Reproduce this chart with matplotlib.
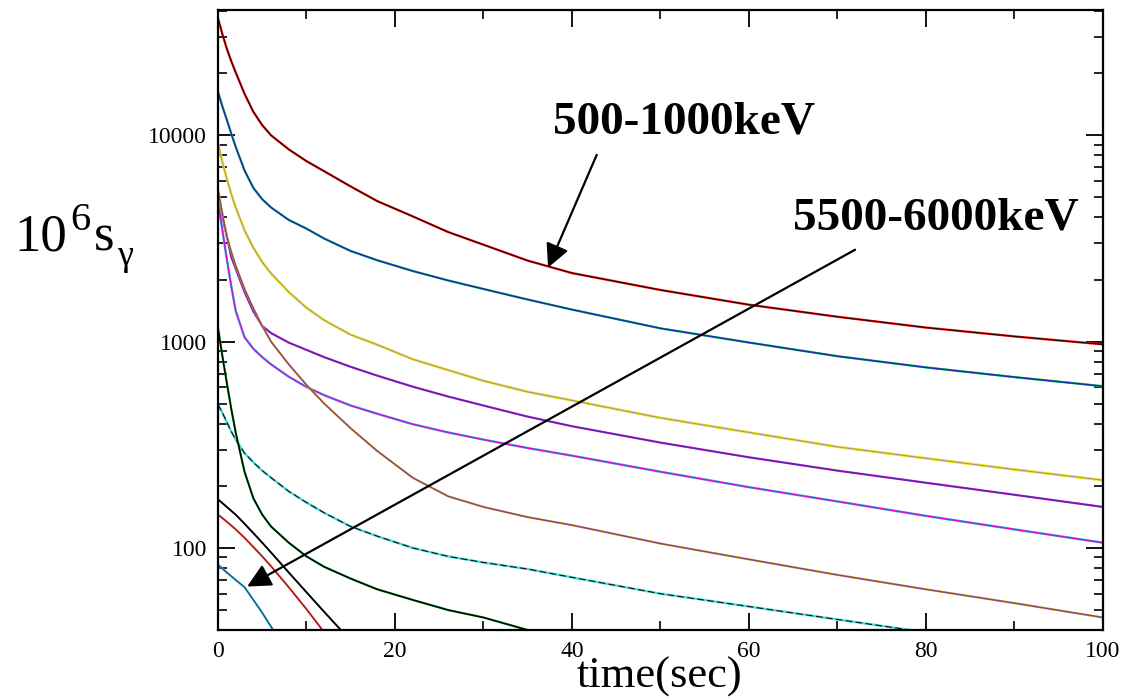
import numpy as np
import matplotlib.pyplot as plt
from matplotlib.ticker import FixedLocator, MultipleLocator, LogLocator, NullFormatter

plt.rcParams['font.family'] = ['Liberation Serif', 'DejaVu Serif']

# time grid (sec)
t = [0, 0.5, 1, 1.5, 2, 3, 4, 5, 6, 8, 10, 12, 15, 18, 22, 26, 30, 35, 40,
     50, 60, 70, 80, 90, 100]

# decay curves, one per energy window
c500 = [37000, 30900, 26300, 22900, 20200, 15900, 13000, 11200, 10000, 8550,
        7500, 6700, 5650, 4800, 4050, 3400, 2950, 2470, 2150,
        1780, 1510, 1320, 1170, 1060, 970]
c1000 = [16250, 13800, 11900, 10200, 8800, 6760, 5560, 4900, 4470, 3890,
         3530, 3160, 2750, 2480, 2200, 1980, 1800, 1600, 1430,
         1160, 990, 850, 750, 673, 608]
c1500 = [9200, 7410, 6170, 5190, 4470, 3470, 2850, 2430, 2140, 1740,
         1460, 1270, 1080, 966, 822, 728, 646, 571, 519,
         427, 363, 309, 272, 240, 213]
c2000 = [5040, 3980, 3240, 2570, 2260, 1740, 1400, 1190, 1100, 989,
         912, 841, 755, 684, 605, 542, 490, 433, 389,
         324, 275, 237, 207, 181, 158]
c2500 = [4790, 3470, 2510, 1860, 1410, 1050, 923, 841, 776, 676,
         603, 550, 490, 447, 398, 363, 335, 305, 280,
         234, 197, 168, 143, 123, 106]
c3000 = [5500, 4170, 3240, 2720, 2340, 1800, 1450, 1190, 1000, 776,
         617, 501, 380, 295, 219, 178, 158, 141, 129,
         105, 88, 74, 63, 54, 46]
c3500 = [495, 452, 407, 367, 335, 288, 260, 237, 219, 188,
         166, 148, 127, 114, 100, 91, 85, 79, 72,
         60, 52, 45, 39, 34, 30]
c4000 = [1170, 851, 631, 473, 363, 234, 174, 145, 127, 106,
         91, 81, 71, 63, 56, 50, 46, 40, 36,
         30, 25, 22, 19, 17, 15]

# short curves at the bottom left
t_short = [0, 1, 2, 3, 4, 5, 6, 7, 8, 10, 12, 14, 16]
c4500 = [172, 158, 145, 131, 118, 106, 95, 85, 76, 61, 49, 39.5, 31]
c5000 = [145, 134, 123, 112, 101, 91, 81.5, 72.5, 64.5, 50.5, 39, 30, 23]
c5500 = [83, 76, 70, 64.5, 56, 48.5, 41.5, 35.5, 30.5, 23, 17, 13, 10]

fig = plt.figure(figsize=(11.23, 6.97), dpi=100)
ax = fig.add_axes([0.1941, 0.0961, 0.788, 0.8895])

# data line underneath, fit drawn thin on top
ax.plot(t, c500, color='#ff1818', lw=1.7)
ax.plot(t, c500, color='#200000', lw=0.8)
ax.plot(t, c1000, color='#20d070', lw=1.7)
ax.plot(t, c1000, color='#1c2aa8', lw=1.1)
ax.plot(t, c1500, color='#ece020', lw=1.9)
ax.plot(t, c1500, color='#a89090', lw=0.7)
ax.plot(t, c2000, color='#d020e0', lw=1.6)
ax.plot(t, c2000, color='#4a2aa0', lw=0.9)
ax.plot(t, c2500, color='#30d8f0', lw=1.8)
ax.plot(t, c2500, color='#d010d0', lw=1.1)
ax.plot(t, c3000, color='#f0a030', lw=1.6)
ax.plot(t, c3000, color='#6e4a80', lw=0.9)
ax.plot(t, c3500, color='#48dcdc', lw=1.7)
ax.plot(t, c3500, color='#101010', lw=0.8, dashes=(6, 3))
ax.plot(t, c4000, color='#10a030', lw=1.6)
ax.plot(t, c4000, color='#000000', lw=1.0)
ax.plot(t_short, c4500, color='#000000', lw=1.4)
ax.plot(t_short, c5000, color='#e04848', lw=1.5)
ax.plot(t_short, c5000, color='#700000', lw=0.5)
ax.plot(t_short, c5500, color='#40b8c8', lw=1.6)
ax.plot(t_short, c5500, color='#183c80', lw=0.7)

ax.set_yscale('log')
ax.set_xlim(0, 100)
ax.set_ylim(40, 40500)

ax.set_xticks([0, 20, 40, 60, 80, 100])
ax.xaxis.set_minor_locator(MultipleLocator(10))
ax.yaxis.set_major_locator(FixedLocator([100, 1000, 10000]))
ax.set_yticklabels(['100', '1000', '10000'])
ax.yaxis.set_minor_locator(LogLocator(base=10, subs=np.arange(2, 10)))
ax.yaxis.set_minor_formatter(NullFormatter())

ax.tick_params(which='both', direction='in', top=True, right=True)
ax.tick_params(which='major', length=12, width=1.3, labelsize=17, pad=8)
ax.tick_params(which='minor', length=6.5, width=1.2)
for s in ax.spines.values():
    s.set_linewidth(1.6)

fig.text(0.5877, 0.0129, 'time(sec)', fontsize=32, ha='center', va='baseline')

# y label 10^6 s_gamma, built from pieces
fig.text(0.0125, 0.6413, '10', fontsize=38, va='baseline')
fig.text(0.0623, 0.6700, '6', fontsize=29, va='baseline')
fig.text(0.0837, 0.6413, 's', fontsize=38, va='baseline')
fig.text(0.1042, 0.6198, 'γ', fontsize=26, va='baseline')

ax.text(37.9, 10200, '500-1000keV', fontsize=34, fontweight='bold')
ax.text(65.0, 3500, '5500-6000keV', fontsize=34, fontweight='bold')

arrow = dict(arrowstyle='-|>,head_length=0.8,head_width=0.4', mutation_scale=18,
             color='black', lw=1.6, shrinkA=0, shrinkB=0)
ax.annotate('', xy=(37.3, 2283), xytext=(42.8, 8045), arrowprops=arrow)
ax.annotate('', xy=(3.3, 65), xytext=(72.0, 2790), arrowprops=arrow)

plt.savefig('out.png')
